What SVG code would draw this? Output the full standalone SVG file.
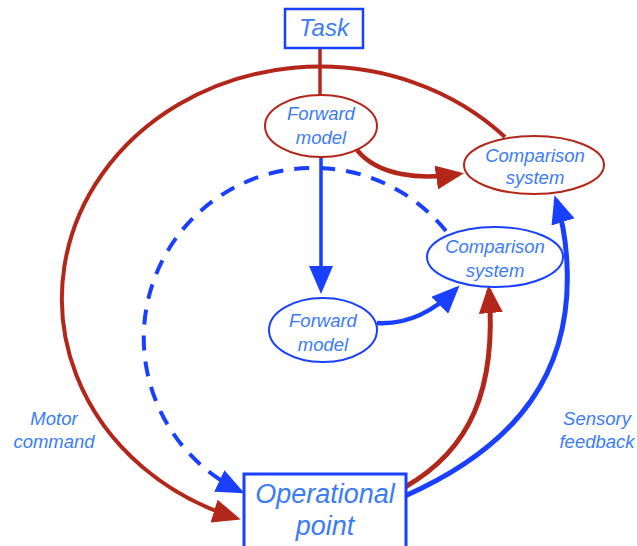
<svg xmlns="http://www.w3.org/2000/svg" width="637" height="546" viewBox="0 0 637 546">
<style>
.red{fill:none;stroke:#b3261a}
.blue{fill:none;stroke:#1940ff}
.nt{font-family:"Liberation Sans",Arial,sans-serif;font-style:italic;fill:#3b7cf6;text-anchor:middle}
.s{font-size:18.5px}
</style>
<defs>
<marker id="ar" markerUnits="userSpaceOnUse" markerWidth="28" markerHeight="24" refX="23" refY="12" orient="auto"><path d="M0,0 L28,12 L0,24 z" fill="#b3261a"/></marker>
<marker id="ab" markerUnits="userSpaceOnUse" markerWidth="28" markerHeight="24" refX="23" refY="12" orient="auto"><path d="M0,0 L28,12 L0,24 z" fill="#1940ff"/></marker>
</defs>
<rect width="637" height="546" fill="#fff"/>
<g id="connectors">
<path class="red" stroke-width="3.5" d="M320,48 L320,96"/>
<path class="red" stroke-width="4" d="M505,137 A258,232 0 1 0 236,518" marker-end="url(#ar)"/>
<path class="blue" stroke-width="4" stroke-dasharray="15,11" d="M446,231 A170,170 0 1 0 240,491" marker-end="url(#ab)"/>
<path class="blue" stroke-width="3.5" d="M321,157 L321,289" marker-end="url(#ab)"/>
<path class="red" stroke-width="4.5" d="M357,150 C378,176 420,180 459,174" marker-end="url(#ar)"/>
<path class="blue" stroke-width="4.5" d="M377,323 C410,325 435,310 456,289" marker-end="url(#ab)"/>
<path class="red" stroke-width="5" d="M405,487 C470,450 497,390 489,290" marker-end="url(#ar)"/>
<path class="blue" stroke-width="5" d="M405,496 C520,445 572,370 567,265 C566,240 563,222 556,200" marker-end="url(#ab)"/>
</g>
<g id="task">
<rect x="285" y="9" width="78" height="39" fill="#fff" stroke="#1940ff" stroke-width="2.5"/>
<text class="nt" x="324" y="36" font-size="24">Task</text>
</g>
<g id="forward-model-red">
<ellipse cx="321" cy="126" rx="56" ry="31" fill="#fff" stroke="#b3261a" stroke-width="2"/>
<text class="nt s" x="321" y="120">Forward</text>
<text class="nt s" x="321" y="144">model</text>
</g>
<g id="comparison-red">
<ellipse cx="534" cy="165" rx="70" ry="29" fill="#fff" stroke="#b3261a" stroke-width="2"/>
<text class="nt s" x="535" y="162">Comparison</text>
<text class="nt s" x="535" y="184">system</text>
</g>
<g id="comparison-blue">
<ellipse cx="495" cy="257" rx="68" ry="30" fill="#fff" stroke="#1940ff" stroke-width="2"/>
<text class="nt s" x="495" y="253">Comparison</text>
<text class="nt s" x="495" y="277">system</text>
</g>
<g id="forward-model-blue">
<ellipse cx="323" cy="330" rx="54" ry="32" fill="#fff" stroke="#1940ff" stroke-width="2"/>
<text class="nt s" x="323" y="327">Forward</text>
<text class="nt s" x="323" y="351">model</text>
</g>
<g id="operational-point">
<rect x="244" y="474" width="162" height="74" fill="#fff" stroke="#1940ff" stroke-width="3"/>
<text class="nt" x="325" y="503" font-size="27">Operational</text>
<text class="nt" x="325" y="535" font-size="27">point</text>
</g>
<g id="labels">
<text class="nt s" x="54" y="425">Motor</text>
<text class="nt s" x="54" y="448">command</text>
<text class="nt s" x="597" y="425">Sensory</text>
<text class="nt s" x="597" y="448">feedback</text>
</g>
</svg>
